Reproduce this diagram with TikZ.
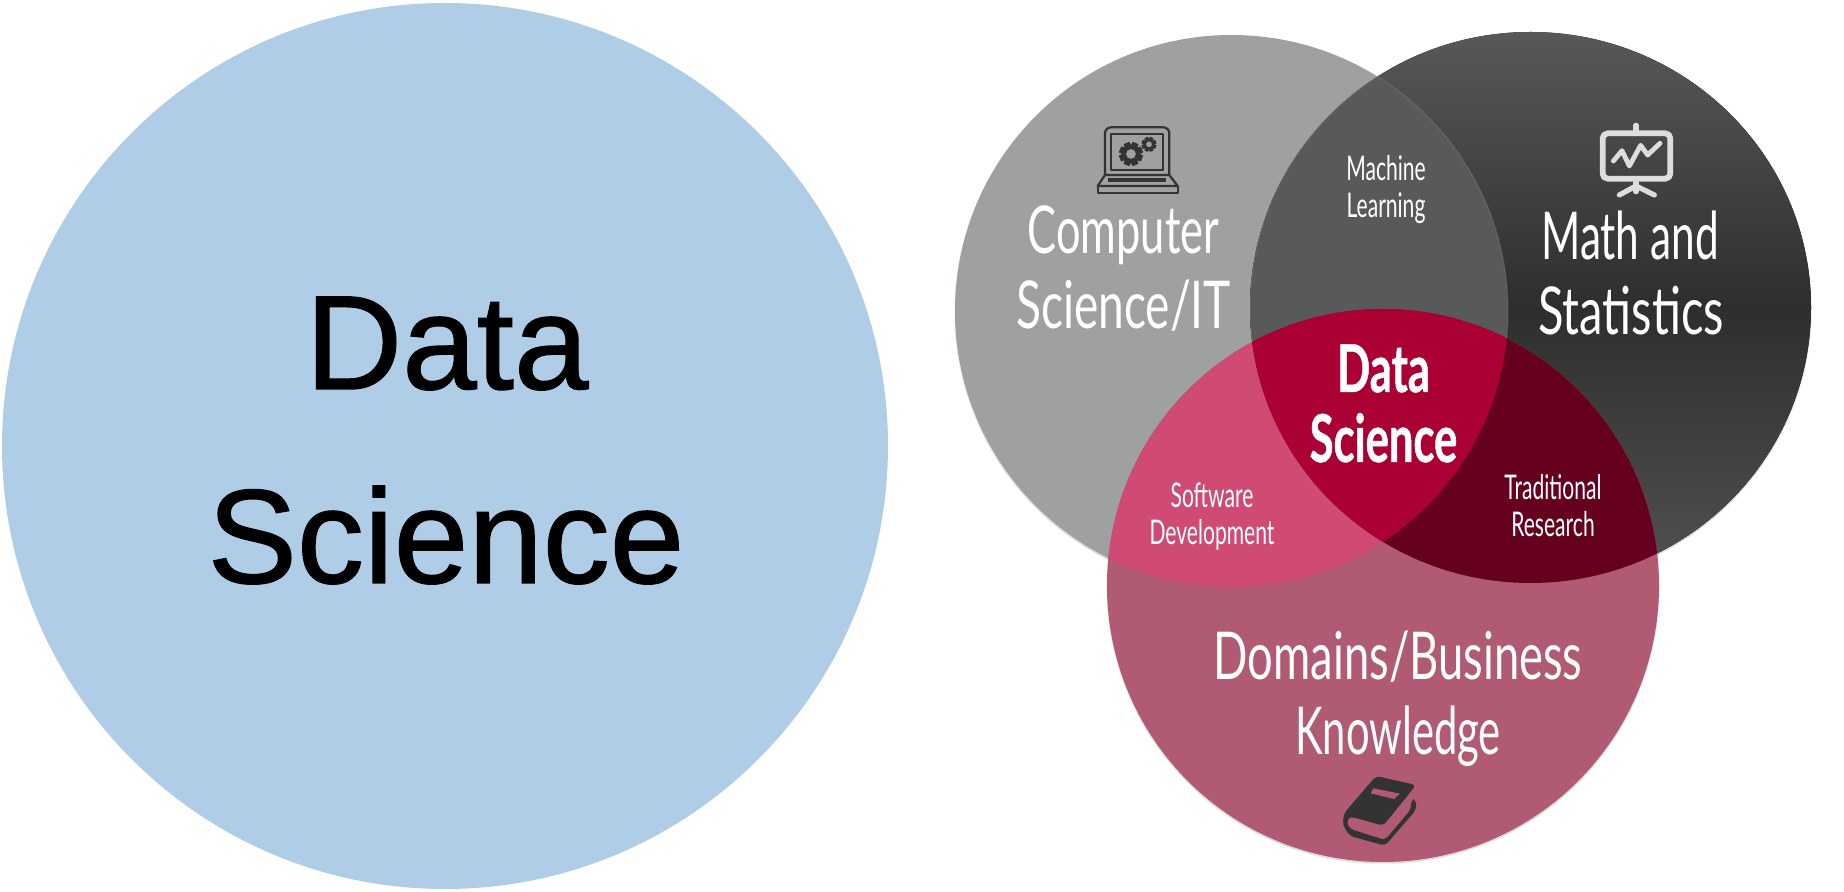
\documentclass[tikz,border=0pt]{standalone}
\usepackage{graphicx}
\usepackage{fontspec}
\newfontfamily\bigfont[FakeBold=1]{Liberation Sans}
\newfontfamily\agency[FakeStretch=0.62]{Lato}
\newfontfamily\agencycore[FakeStretch=0.66,BoldFeatures={FakeBold=0.7}]{Lato}
\definecolor{bigblue}{HTML}{AFCDE7}
\definecolor{cgray}{HTML}{9FA0A2}
\definecolor{cdarkm}{HTML}{2E2E2E}
\definecolor{cdarkb}{HTML}{525252}
\definecolor{cdarkt}{HTML}{585858}
\definecolor{cmaroon}{HTML}{B05A74}
\definecolor{cgd}{HTML}{58595B}
\definecolor{cgm}{HTML}{CF4B73}
\definecolor{cdm}{HTML}{66001F}
\definecolor{ccore}{HTML}{AA0033}
\definecolor{iconink}{HTML}{333333}
\definecolor{iconlight}{HTML}{DDDDDD}
\tikzset{
  x=0.5pt,y=-0.5pt,
  bigtext/.style={font=\bigfont\fontsize{67}{67}\selectfont,text=black,anchor=base,inner sep=0},
  vennbig/.style={font=\agency\fontsize{33}{33}\selectfont,text=white,anchor=base,inner sep=0},
  vennmid/.style={font=\agency\fontsize{17}{17}\selectfont,text=white,anchor=base,inner sep=0},
  venncore/.style={font=\agencycore\bfseries\fontsize{33}{33}\selectfont,text=white,anchor=base,inner sep=0},
  halo/.style={fill=black,opacity=0.10,draw=black,draw opacity=0.06,line width=0.8pt},
  bevel/.style={draw=white,draw opacity=0.09,line width=0.7pt},
}
\newcommand{\cirgray}{(1231.5,311) ellipse[x radius=276.5,y radius=276]}
\newcommand{\cirdark}{(1530.5,307.5) ellipse[x radius=280.5,y radius=275.5]}
\newcommand{\cirmar}{(1383,585.5) ellipse[x radius=276,y radius=276.5]}
\newcommand{\sx}[2]{\scalebox{#1}[1]{#2}}
\begin{document}
\begin{tikzpicture}
\useasboundingbox (0,0) rectangle (1844,892);
\fill[bigblue] (445,446) circle[radius=443];
\node[bigtext] (t1) at (447,389) {Data};
\node[bigtext] (t2) at (446,583) {Science};
% soft edge under the circles
\begin{scope}[shift={(0,1.5)}]
\path[halo] \cirgray; \path[halo] \cirdark; \path[halo] \cirmar;
\end{scope}
% Venn regions
\fill[cgray] \cirgray;
\fill[top color=cdarkt,bottom color=cdarkb,middle color=cdarkm] \cirdark;
\fill[cmaroon] \cirmar;
\begin{scope}\clip \cirgray; \fill[cgd] \cirdark; \path[bevel] \cirdark; \fill[cgm] \cirmar; \end{scope}
\begin{scope}\clip \cirdark; \path[bevel] \cirgray; \fill[cdm] \cirmar; \end{scope}
\begin{scope}\clip \cirgray; \clip \cirdark; \fill[ccore] \cirmar; \end{scope}
% texts
\node[vennbig] (cs1) at (1123.5,254) {\sx{1.06}{Computer}};
\node[vennbig] (cs2) at (1123.5,329) {\sx{1.125}{Science/IT}};
\node[vennbig] (ms1) at (1630,260) {\sx{1.035}{Math and}};
\node[vennbig] (ms2) at (1631,335) {\sx{1.15}{Statistics}};
\node[vennmid] (ml1) at (1386,181) {Machine};
\node[vennmid] (ml2) at (1386,218) {Learning};
\node[venncore] (ds1) at (1383.5,392) {Data};
\node[venncore] (ds2) at (1383.5,462) {Science};
\node[vennmid] (sd1) at (1212,508) {Software};
\node[vennmid] (sd2) at (1212,545) {Development};
\node[vennmid] (tr1) at (1553,500) {Traditional};
\node[vennmid] (tr2) at (1553,537) {Research};
\node[vennbig] (db1) at (1398,680) {\sx{1.107}{Domains/Business}};
\node[vennbig] (db2) at (1398,755) {\sx{1.02}{Knowledge}};
% laptop icon
\begin{scope}[shift={(1060,100)},scale=1/3,iconink,line width=1.1pt,line join=round]
  \draw[rounded corners=3pt] (135,225) -- (135,82) -- (328,82) -- (328,225);
  \draw (153,101) rectangle (308,211);
  \draw (135,225) -- (328,225) -- (353,258) -- (113,258) -- cycle;
  \draw (113,258) -- (113,279) -- (353,279) -- (353,258);
  \fill (145,235) rectangle (318,247);
  \foreach \cx/\cy/\ro/\ri/\h in {213/162/37/27/15,267/133/23/16/9}{
    \begin{scope}[shift={(\cx,\cy)}]
      \fill[even odd rule] (0:\ri)
        \foreach \a in {0,45,...,315} { -- ({\a+8}:\ro) -- ({\a+37}:\ro) -- ({\a+45}:\ri) } -- cycle
        (0,0) circle[radius=\h];
    \end{scope}
  }
\end{scope}
% presentation icon
\begin{scope}[shift={(1590,100)},scale=1/3,iconlight,line cap=round,line join=round]
  \draw[line width=2.9pt,rounded corners=2.5pt] (38,100) rectangle (241,236);
  \draw[line width=2.6pt] (138,76) -- (138,90);
  \draw[line width=2.6pt] (88,285) -- (138,258) -- (193,285);
  \draw[line width=2.6pt] (138,248) -- (138,275);
  \draw[line width=2.4pt] (70,183) -- (96,152) -- (118,198) -- (152,136) -- (173,165) -- (210,130);
\end{scope}
% book icon
\begin{scope}[shift={(1330,760)},scale=1/3,line join=round]
  \fill[iconink,rounded corners=2pt] (138,48) -- (258,75) -- (160,197) -- (62,170) -- (55,175) -- (50,190) -- (60,207) -- (165,240) -- (243,148) -- (243,120) -- (258,118) -- (258,150) -- (165,257) -- (60,228) -- (38,195) -- (42,160) -- cycle;
  \fill[cmaroon] (130,85) -- (210,101) -- (192,117) -- (122,100) -- cycle;
\end{scope}
\end{tikzpicture}
\end{document}
